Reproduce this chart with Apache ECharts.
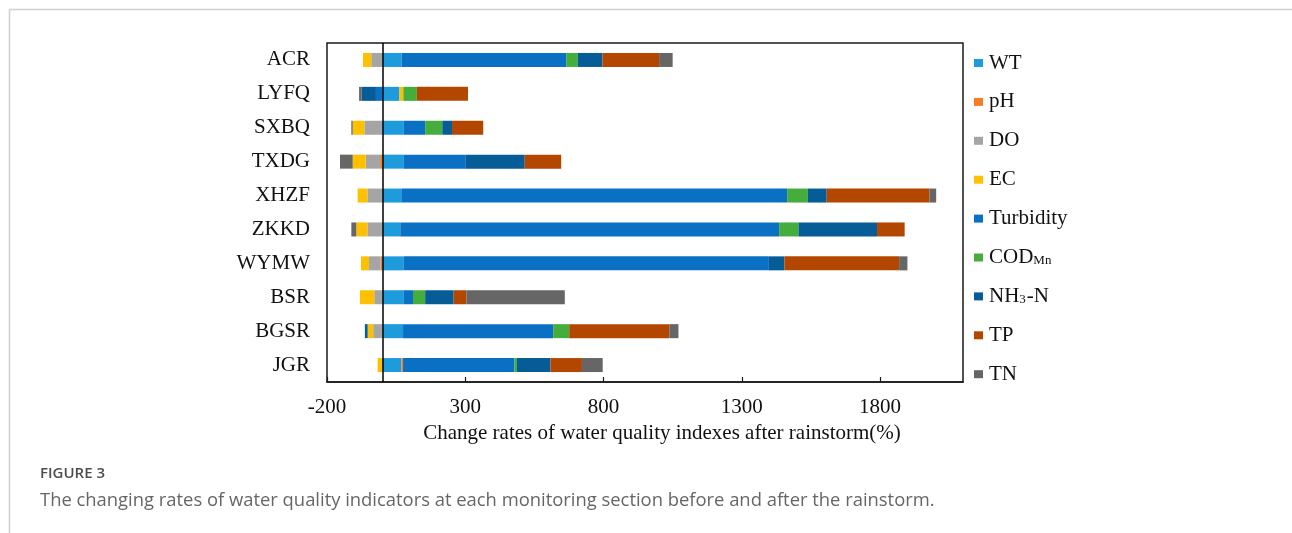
<!DOCTYPE html>
<html>
<head>
<meta charset="utf-8">
<script src="https://cdn.jsdelivr.net/npm/echarts@6/dist/echarts.min.js"></script>
<style>
  html, body { margin: 0; padding: 0; background: #fff; }
  #chart { width: 1292px; height: 533px; }
</style>
</head>
<body>
<div id="chart"></div>
<script>
// Monitoring sections (top to bottom)
const sections = ['ACR', 'LYFQ', 'SXBQ', 'TXDG', 'XHZF', 'ZKKD', 'WYMW', 'BSR', 'BGSR', 'JGR'];

// Change rate (%) of each water quality index after the rainstorm, per section
const wt        = [70, 62, 78, 78, 71, 65, 78, 78, 75, 69];
const ph        = [0, 0, 0, -8, 0, 0, -6, 0, 0, 6];
const dox       = [-40, 0, -65, -52, -54, -54, -42, -29, -33, 0];
const ec        = [-30, 14, -42, -47, -35, -40, -29, -52, -20, -17];
const turbidity = [595, -23, 77, 224, 1393, 1370, 1320, 33, 543, 403];
const codMn     = [42, 49, 62, 0, 75, 70, 0, 44, 58, 9];
const nh3n      = [89, -52, 35, 213, 68, 284, 56, 103, -10, 121];
const tp        = [205, 185, 113, 132, 372, 100, 415, 46, 362, 114];
const tn        = [49, -9, -5, -46, 24, -18, 30, 356, 33, 75];

// Axis ticks
const xMin = -200, xMax = 2100, xStep = 500;

const indexNames = ['WT', 'pH', 'DO', 'EC', 'Turbidity', 'CODMn', 'NH3-N', 'TP', 'TN'];
const indexValues = [wt, ph, dox, ec, turbidity, codMn, nh3n, tp, tn];
const indexColors = ['#1E9BDB', '#F47D27', '#A5A5A5', '#FFC000', '#0A70C4', '#44AD3C', '#055C96', '#B44700', '#666666'];

const serif = '"Liberation Serif", "Times New Roman", serif';
const sans = '"Open Sans", "Noto Sans", sans-serif';
const chart = echarts.init(document.getElementById('chart'), null, { renderer: 'canvas' });

const series = indexNames.map((name, i) => {
  const s = {
    name: name,
    type: 'bar',
    stack: 'rate',
    barWidth: 14,
    data: indexValues[i],
    itemStyle: { color: indexColors[i] },
    emphasis: { disabled: true }
  };
  if (i === 0) {
    // vertical reference line at 0 %
    s.markLine = {
      silent: true,
      symbol: ['none', 'none'],
      label: { show: false },
      lineStyle: { color: '#000', type: 'solid', width: 1.5 },
      data: [{ xAxis: 0 }]
    };
  }
  return s;
});

chart.setOption({
  animation: false,
  backgroundColor: '#fff',
  grid: {
    left: 327, top: 43, width: 636, height: 339,
    show: true, borderColor: '#1a1a1a', borderWidth: 1.5, backgroundColor: 'transparent'
  },
  xAxis: {
    type: 'value',
    min: xMin, max: xMax, interval: xStep,
    axisLine: { show: true, onZero: false, lineStyle: { color: '#1a1a1a', width: 1.5 } },
    axisTick: { show: true, inside: true, length: 5, lineStyle: { color: '#1a1a1a', width: 1.2 } },
    splitLine: { show: false },
    axisLabel: {
      showMaxLabel: false, margin: 15, color: '#111', fontSize: 21, fontFamily: serif,
      formatter: function (v) { return String(v); }
    }
  },
  yAxis: {
    type: 'category',
    inverse: true,
    data: sections,
    axisLine: { show: false },
    axisTick: { show: false },
    axisLabel: { margin: 17, color: '#111', fontSize: 21, fontFamily: serif }
  },
  legend: {
    orient: 'vertical',
    left: 969, top: 47.5,
    itemWidth: 9, itemHeight: 8, itemGap: 17.9,
    icon: 'rect',
    data: indexNames,
    formatter: function (name) {
      if (name === 'CODMn') return '{n|COD}{s|Mn}';
      if (name === 'NH3-N') return '{n|NH}{s|3}{n|-N}';
      return '{n|' + name + '}';
    },
    textStyle: {
      color: '#111', fontSize: 21, fontFamily: serif, lineHeight: 20,
      rich: {
        n: { fontSize: 21, fontFamily: serif, color: '#111', lineHeight: 20, padding: [0, 0, 0, 1] },
        s: { fontSize: 13, fontFamily: serif, color: '#111', lineHeight: 12, verticalAlign: 'bottom' }
      }
    }
  },
  graphic: [
    { type: 'line', shape: { x1: 9.5, y1: 9.5, x2: 1292, y2: 9.5 }, style: { stroke: '#cfcfcf', lineWidth: 1.5 } },
    { type: 'line', shape: { x1: 9.5, y1: 9.5, x2: 9.5, y2: 533 }, style: { stroke: '#cfcfcf', lineWidth: 1.5 } },
    {
      type: 'text',
      style: {
        x: 662, y: 433,
        text: 'Change rates of water quality indexes after rainstorm(%)',
        fill: '#111', font: '21px ' + serif, textAlign: 'center', textVerticalAlign: 'middle'
      }
    },
    {
      type: 'text',
      style: {
        x: 40, y: 474, text: 'FIGURE 3', fill: '#4d4d4d',
        font: '600 15px ' + sans, textVerticalAlign: 'middle'
      }
    },
    {
      type: 'text',
      style: {
        x: 40, y: 501,
        text: 'The changing rates of water quality indicators at each monitoring section before and after the rainstorm.',
        fill: '#666', font: '18.4px ' + sans, textVerticalAlign: 'middle'
      }
    }
  ],
  series: series
});
</script>
</body>
</html>
